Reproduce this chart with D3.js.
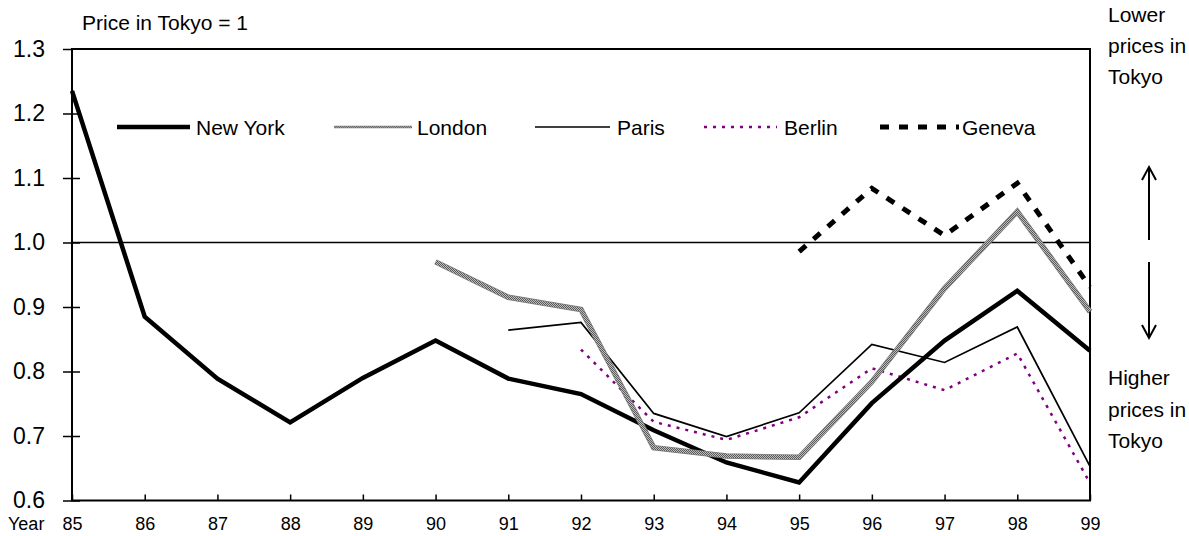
<!DOCTYPE html>
<html>
<head>
<meta charset="utf-8">
<script src="https://cdn.jsdelivr.net/npm/d3@7"></script>
<style>
  body { margin: 0; background: #fff; }
  svg { font-family: "Liberation Sans", Arial, sans-serif; }
  .axis text { fill: #000; }
  .axis line, .axis path { stroke: #000; }
</style>
</head>
<body>
<div id="chart"></div>
<script>
// years on the x axis
const years = ["85", "86", "87", "88", "89", "90", "91", "92", "93", "94", "95", "96", "97", "98", "99"];

// price relative to Tokyo (null = no data)
const newYork = [1.235, 0.885, 0.789, 0.721, 0.790, 0.848, 0.789, 0.765, 0.709, 0.659, 0.628, 0.751, 0.848, 0.925, 0.832];
const london  = [null, null, null, null, null, 0.970, 0.915, 0.896, 0.682, 0.669, 0.667, 0.784, 0.929, 1.048, 0.893];
const paris   = [null, null, null, null, null, null, 0.864, 0.876, 0.735, 0.699, 0.736, 0.842, 0.814, 0.869, 0.653];
const berlin  = [null, null, null, null, null, null, null, 0.834, 0.722, 0.694, 0.729, 0.805, 0.771, 0.828, 0.627];
const geneva  = [null, null, null, null, null, null, null, null, null, null, 0.986, 1.084, 1.011, 1.092, 0.931];

const yTicks = [0.6, 0.7, 0.8, 0.9, 1.0, 1.1, 1.2, 1.3];

const width = 1189, height = 536;
const plot = {left: 72, right: 1090, top: 49, bottom: 500.5};

let svg = d3.select("#chart").append("svg")
    .attr("width", width)
    .attr("height", height);

// checkered fill used for the London line
let defs = svg.append("defs");
let checker = defs.append("pattern")
    .attr("id", "checker")
    .attr("patternUnits", "userSpaceOnUse")
    .attr("width", 2).attr("height", 2);
checker.append("rect").attr("width", 2).attr("height", 2).attr("fill", "#bdbdbd");
checker.append("rect").attr("width", 1).attr("height", 1).attr("fill", "#5a5a5a");
checker.append("rect").attr("x", 1).attr("y", 1).attr("width", 1).attr("height", 1).attr("fill", "#5a5a5a");

let xScale = d3.scalePoint().domain(years).range([plot.left, plot.right]);
let yScale = d3.scaleLinear().domain([0.6, 1.3]).range([plot.bottom, plot.top]);

// y axis, ticks cross the axis line
let yAxisGroup = svg.append("g")
    .attr("class", "axis")
    .attr("transform", "translate(" + plot.left + ",0)")
    .call(d3.axisLeft(yScale).tickValues(yTicks).tickSize(9).tickPadding(18).tickFormat(d3.format(".1f")));
yAxisGroup.select(".domain").remove();
yAxisGroup.selectAll(".tick line").attr("stroke-width", 1.5);
yAxisGroup.selectAll(".tick").filter(d => d < 1.3)
    .append("line").attr("x1", 0).attr("x2", 8).attr("stroke", "#000").attr("stroke-width", 1.5);
yAxisGroup.selectAll("text").style("font-size", "23px");

// x axis, ticks point up into the plot
let xAxisGroup = svg.append("g")
    .attr("class", "axis")
    .attr("transform", "translate(0," + plot.bottom + ")")
    .call(d3.axisBottom(xScale).tickSize(-6).tickPadding(17));
xAxisGroup.select(".domain").remove();
xAxisGroup.selectAll(".tick line").attr("stroke-width", 1.5);
xAxisGroup.selectAll("text").style("font-size", "18px");

svg.append("text")
    .attr("x", 8).attr("y", plot.bottom + 17)
    .attr("dy", "0.71em")
    .style("font-size", "18px")
    .text("Year");

// plot frame
svg.append("rect")
    .attr("x", plot.left).attr("y", plot.top)
    .attr("width", plot.right - plot.left)
    .attr("height", plot.bottom - plot.top)
    .attr("fill", "none")
    .attr("stroke", "#000")
    .attr("stroke-width", 2);

// reference line at 1.0
svg.append("line")
    .attr("x1", plot.left).attr("x2", plot.right)
    .attr("y1", yScale(1)).attr("y2", yScale(1))
    .attr("stroke", "#000")
    .attr("stroke-width", 1.5);

svg.append("text")
    .attr("x", 82).attr("y", 30)
    .style("font-size", "21px")
    .text("Price in Tokyo = 1");

let line = d3.line()
    .defined(d => d != null)
    .x((d, i) => xScale(years[i]))
    .y(d => yScale(d));

let series = [
    {name: "New York", values: newYork, styles: [{stroke: "#000", width: 4.5}]},
    {name: "London", values: london, styles: [{stroke: "#7a7a7a", width: 5.5}, {stroke: "url(#checker)", width: 4}]},
    {name: "Paris", values: paris, styles: [{stroke: "#000", width: 1.7}]},
    {name: "Berlin", values: berlin, styles: [{stroke: "#800080", width: 2.5, dash: "3,6"}]},
    {name: "Geneva", values: geneva, styles: [{stroke: "#000", width: 5, dash: "9,10"}]}
];

// thin lines first, heavy lines on top like the original
let drawOrder = ["Berlin", "Paris", "New York", "London", "Geneva"];
drawOrder.forEach(name => {
    let s = series.find(d => d.name === name);
    s.styles.forEach(st => {
        svg.append("path")
            .datum(s.values)
            .attr("d", line)
            .attr("fill", "none")
            .attr("stroke", st.stroke)
            .attr("stroke-width", st.width)
            .attr("stroke-dasharray", st.dash || null)
            .attr("stroke-linejoin", "miter");
    });
});

// legend
let legendItems = [
    {name: "New York", x1: 117, x2: 190, tx: 196, styles: [{stroke: "#000", width: 4.5}]},
    {name: "London", x1: 334, x2: 412, tx: 417, styles: [{stroke: "#7a7a7a", width: 2.5}, {stroke: "url(#checker)", width: 1.2}]},
    {name: "Paris", x1: 535, x2: 610, tx: 617, styles: [{stroke: "#000", width: 1.7}]},
    {name: "Berlin", x1: 704, x2: 777, tx: 784, styles: [{stroke: "#800080", width: 2.5, dash: "3,6"}]},
    {name: "Geneva", x1: 880, x2: 959, tx: 962, styles: [{stroke: "#000", width: 5, dash: "9,10"}]}
];
let legendY = 127;
let legend = svg.append("g").attr("id", "legend");
legendItems.forEach(item => {
    item.styles.forEach(st => {
        legend.append("line")
            .attr("x1", item.x1).attr("x2", item.x2)
            .attr("y1", legendY).attr("y2", legendY)
            .attr("stroke", st.stroke)
            .attr("stroke-width", st.width)
            .attr("stroke-dasharray", st.dash || null);
    });
    legend.append("text")
        .attr("x", item.tx).attr("y", legendY)
        .attr("dy", "0.36em")
        .style("font-size", "21px")
        .text(item.name);
});

// right side notes with arrows
let notes = svg.append("g").style("font-size", "21px");
["Lower", "prices in", "Tokyo"].forEach((t, i) => {
    notes.append("text").attr("x", 1108).attr("y", 22 + i * 31).text(t);
});
["Higher", "prices in", "Tokyo"].forEach((t, i) => {
    notes.append("text").attr("x", 1108).attr("y", 385 + i * 31.5).text(t);
});

let ax = 1149;
let arrows = svg.append("g").attr("stroke", "#000").attr("stroke-width", 2).attr("fill", "none");
arrows.append("line").attr("x1", ax).attr("x2", ax).attr("y1", 167).attr("y2", 240);
arrows.append("polyline").attr("points", (ax - 7) + ",180 " + ax + ",167 " + (ax + 7) + ",180");
arrows.append("line").attr("x1", ax).attr("x2", ax).attr("y1", 262).attr("y2", 338);
arrows.append("polyline").attr("points", (ax - 7) + ",325 " + ax + ",338 " + (ax + 7) + ",325");
</script>
</body>
</html>
